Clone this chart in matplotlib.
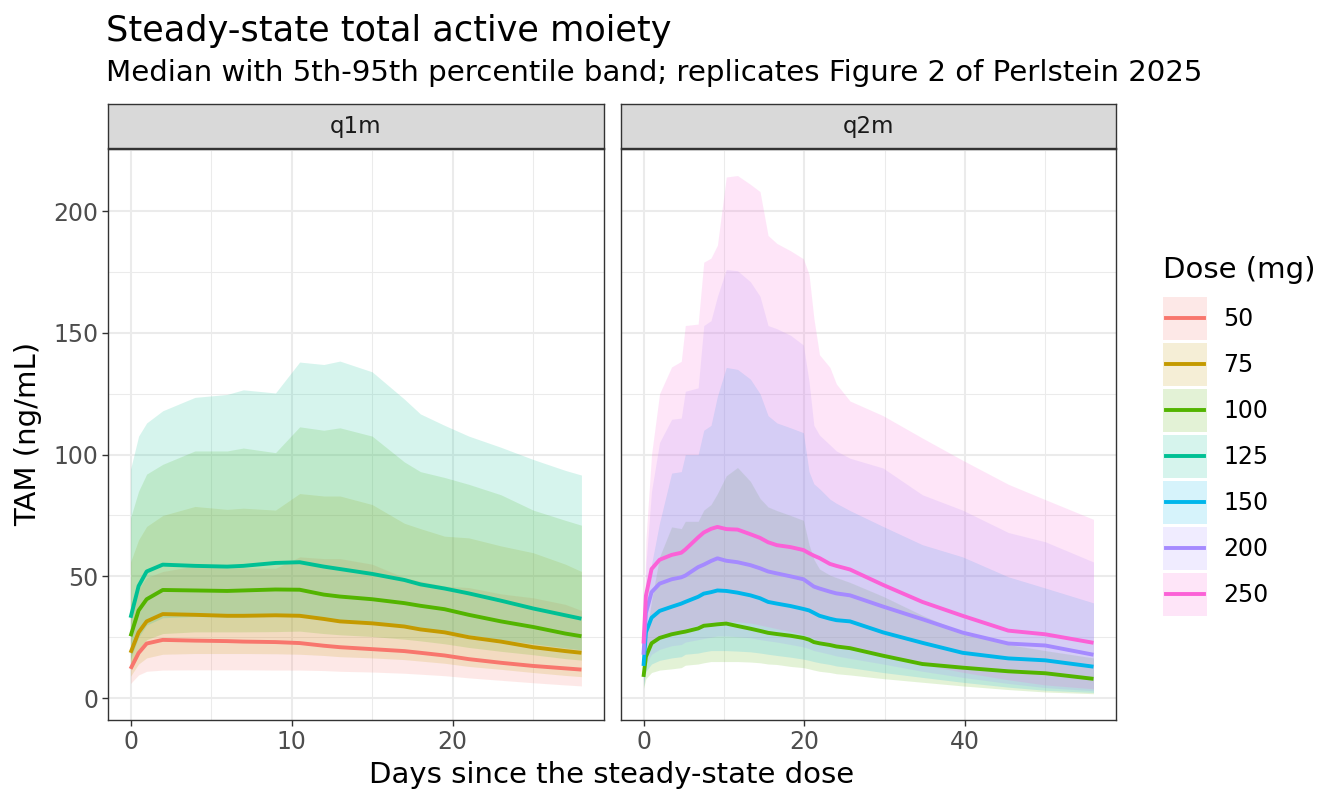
import numpy as np
import matplotlib
matplotlib.use("Agg")
import matplotlib.pyplot as plt
from matplotlib.patches import Patch, Rectangle
from matplotlib.lines import Line2D

# ---------------- data ----------------
dose_levels = ["50", "75", "100", "125", "150", "200", "250"]
dose_colors = ["#F8766D", "#C49A00", "#53B400", "#00C094", "#00B6EB", "#A58AFF", "#FB61D7"]

# q1m panel: days 0-28
t_q1m = [0, 0.5, 1, 2, 4, 6, 7, 9, 10.5, 12, 13, 15, 17, 18, 19.5, 21, 23, 25, 27, 28]
q1m_doses = ["50", "75", "100", "125"]
q1m_med = {
    "50":  [12, 18.5, 22.4, 23.9, 23.6, 23.4, 23.2, 23, 22.6, 21.5, 20.9, 20.1, 19.3, 18.6, 17.5, 16, 14.5, 13.2, 12.2, 11.7],
    "75":  [18.6, 27, 31.5, 34.5, 34.2, 33.8, 33.8, 34, 33.8, 32.5, 31.5, 30.7, 29.4, 28.2, 27, 25, 23.2, 20.9, 19.3, 18.6],
    "100": [25.4, 36, 40.6, 44.4, 44.2, 44, 44.2, 44.6, 44.5, 42.5, 41.7, 40.6, 39, 37.9, 36.5, 34.2, 31.5, 29.2, 26.5, 25.4],
    "125": [33, 46, 52, 54.8, 54.3, 54, 54.3, 55.5, 55.8, 54, 53, 51, 48.5, 46.7, 45, 43, 40, 36.8, 34, 32.6],
}
q1m_lo = {
    "50":  [6, 9.5, 11, 11.5, 11.6, 11.6, 11.6, 11.5, 11.5, 11.3, 11, 10.7, 10.2, 9.8, 9.2, 8.3, 7.3, 6.3, 5.4, 5],
    "75":  [9, 14, 16.5, 18, 18.3, 18.3, 18.3, 18.2, 18, 17.5, 17, 16.5, 15.8, 15.2, 14.3, 13, 11.8, 10.5, 9.3, 8.8],
    "100": [13, 20, 24, 26.5, 27.2, 27.2, 27.2, 27.3, 27.5, 26.5, 26, 25.3, 24.2, 23.5, 22.3, 20.8, 19.2, 17.8, 16.2, 15.6],
    "125": [16, 25, 30, 33, 33.5, 33.3, 33.3, 33.6, 33.8, 32.8, 32, 31, 29.6, 28.6, 27.4, 26, 24, 22.3, 20.6, 19.8],
}
q1m_hi = {
    "50":  [38.5, 45, 49.5, 52, 54.3, 53.5, 53.5, 53.3, 58, 57.3, 57.3, 55, 49.5, 48, 46, 45.4, 42.8, 41.2, 38.5, 36],
    "75":  [55.9, 65, 70.5, 75, 78.7, 77.5, 78, 77.2, 84, 83, 83, 79.5, 71.8, 69.6, 66.5, 65.8, 62.5, 59.7, 55, 52],
    "100": [74, 85, 92, 96, 101.5, 101.5, 102.7, 100.8, 111.4, 110, 111, 107.6, 97, 93, 90.6, 87.8, 83.5, 77.2, 73, 71],
    "125": [94, 107.6, 113, 118, 123.5, 124.7, 126.6, 125.3, 138, 137, 138.4, 134, 122.8, 116.7, 112, 107.6, 103, 98, 93.5, 91.6],
}

# q2m panel: days 0-56
t_q2m = [0, 0.3, 1, 2, 3.5, 4.7, 5.2, 6.8, 7.5, 8.4, 9.2, 10.3, 11.7, 13.3, 14.5, 15.5,
         16.6, 18.3, 19.9, 20.6, 21.2, 21.9, 23.2, 24, 25.7, 29.8, 34.7, 39.7, 45.4, 50, 56]
q2m_doses = ["100", "150", "200", "250"]
q2m_med = {
    "100": [8.7, 17, 22.5, 24.7, 26.2, 27, 27.3, 28.6, 29.7, 30, 30.3, 30.6, 29.6, 28.5, 27.6, 26.8,
            26.3, 25.6, 24.7, 24, 23, 22.5, 21.8, 21.2, 20.5, 17.4, 14, 12.5, 11, 10.2, 7.9],
    "150": [13.2, 27, 33, 35.8, 37.5, 38.8, 39.5, 41.6, 42.9, 43.5, 44.2, 44, 43.3, 42.2, 41, 39.5,
            38.8, 37.8, 36.6, 36, 35, 33.8, 32.6, 32, 31.5, 27, 22.7, 18.6, 16.3, 15.5, 12.9],
    "200": [17.8, 35, 43.5, 47, 48.8, 49.6, 50.3, 53.8, 54.8, 56.3, 57.4, 56.4, 55.8, 54.6, 53.3, 52,
            51.2, 50, 48.8, 47.2, 45.8, 45, 43.7, 43, 42.2, 37.6, 32.4, 26.9, 22.4, 21.6, 17.8],
    "250": [22.4, 42, 53, 56.8, 58.8, 59.7, 61, 66, 68, 69.5, 70.3, 69.4, 69.2, 67.3, 65.8, 64,
            62.8, 62, 60.8, 59.5, 58.5, 57.5, 55.1, 54.3, 52.8, 46.5, 39.5, 33.8, 27.7, 26.2, 22.7],
}
q2m_lo = {
    "100": [4, 8, 10.5, 11.5, 12, 12.5, 13.5, 14, 14.5, 15, 15, 15, 15, 14.8, 14.5, 14,
            13.8, 13, 12.5, 12, 11.5, 11, 10.5, 10, 9.5, 8, 6.5, 5, 3.5, 2.5, 1.8],
    "150": [5, 11, 14, 15.5, 16.5, 17, 18, 18.5, 19, 19.5, 19.5, 19.5, 19.3, 19, 18.5, 18,
            17.5, 16.8, 16, 15.5, 15, 14.5, 13.8, 13.2, 12.5, 10.5, 8.5, 6.5, 4.5, 3.2, 2.3],
    "200": [6, 14, 18, 20, 21.5, 22, 23, 24, 24.5, 25, 25.5, 25.5, 25.2, 24.8, 24, 23.5,
            23, 22, 21, 20.3, 19.5, 19, 18, 17.3, 16.3, 14, 11, 8.5, 6, 4.3, 3],
    "250": [7, 17, 22, 25, 26.5, 27, 28.5, 30, 30.5, 31, 31.5, 31.5, 31.3, 30.8, 30, 29.3,
            28.5, 27.3, 26, 25.3, 24.5, 23.7, 22.5, 21.6, 20.3, 17.5, 13.8, 10.6, 7.5, 5.4, 3.8],
}
q2m_hi = {
    "100": [10, 25, 40, 58, 70.3, 69.6, 72.6, 72.6, 77.2, 79.5, 84, 91.3, 94.7, 89, 82, 78.5,
            77, 75, 73, 63, 57, 53, 50.5, 49.5, 47.5, 41.8, 34, 27, 22, 19.5, 16.5],
    "150": [14, 35, 55, 72, 92.4, 93, 100, 100, 110, 112, 124, 135.8, 135, 131, 125, 116,
            113, 111, 109, 93, 88, 86, 81.7, 80, 77, 70.5, 63, 58, 49.8, 45.2, 39.1],
    "200": [16, 55, 85, 105, 114.5, 115, 126, 127.4, 153, 155, 165, 176, 175.5, 171, 165, 153,
            151.7, 149, 145, 130, 112, 108, 104, 101.5, 98.5, 94.5, 83.5, 77.2, 68, 64.2, 55.9],
    "250": [16, 65, 100, 125, 136, 138.3, 153, 153.6, 179, 180.7, 186, 214, 214.6, 211, 208, 190,
            186.7, 183.7, 180.4, 174, 156, 141, 135.8, 129, 122, 116, 106.8, 97.7, 87.8, 81.5, 73.4],
}

panels = [
    ("q1m", t_q1m, q1m_doses, q1m_med, q1m_lo, q1m_hi, [0, 10, 20], [5, 15, 25], (-1.4, 29.4)),
    ("q2m", t_q2m, q2m_doses, q2m_med, q2m_lo, q2m_hi, [0, 20, 40], [10, 30, 50], (-2.8, 58.8)),
]

# ---------------- layout (pixels -> figure fractions) ----------------
W, H = 1344, 806
fig = plt.figure(figsize=(W / 100, H / 100), dpi=100)

def rect(x0, y0, x1, y1):
    return [x0 / W, 1 - y1 / H, (x1 - x0) / W, (y1 - y0) / H]

panel_x = [(108, 604), (621, 1116)]
ALPHA = 0.16
LW = 2.8
grid_c = "#EBEBEB"

for i, ((name, t, doses, med, lo, hi, xmaj, xmin, xlim), (x0, x1)) in enumerate(zip(panels, panel_x)):
    ax = fig.add_axes(rect(x0, 149, x1, 720))
    ax.set_xlim(*xlim)
    ax.set_ylim(-9.0, 225.5)
    ax.set_xticks(xmaj)
    ax.set_xticks(xmin, minor=True)
    ax.set_yticks([0, 50, 100, 150, 200])
    ax.set_yticks([25, 75, 125, 175, 225], minor=True)
    ax.grid(True, which="major", color=grid_c, lw=1.5)
    ax.grid(True, which="minor", color=grid_c, lw=0.75)
    ax.set_axisbelow(True)
    for sp in ax.spines.values():
        sp.set_color("#333333")
        sp.set_linewidth(1.0)
    ax.tick_params(which="major", length=4, width=1, color="#333333",
                   labelsize=17, labelcolor="#4D4D4D", pad=3)
    ax.tick_params(which="minor", length=0)
    if i > 0:
        ax.tick_params(axis="y", left=False, labelleft=False)

    for d in doses:
        c = dose_colors[dose_levels.index(d)]
        ax.fill_between(t, lo[d], hi[d], color=c, alpha=ALPHA, lw=0)
    for d in doses:
        c = dose_colors[dose_levels.index(d)]
        ax.plot(t, med[d], color=c, lw=LW, solid_capstyle="butt")

    sx = fig.add_axes(rect(x0, 104, x1, 148))
    sx.set_facecolor("#D9D9D9")
    sx.set_xticks([])
    sx.set_yticks([])
    for sp in sx.spines.values():
        sp.set_color("#333333")
        sp.set_linewidth(1.0)
    sx.text(0.5, 0.5, name, ha="center", va="center", fontsize=16.5, color="#1A1A1A")

# titles and axis labels
fig.text(106 / W, 1 - 31 / H, "Steady-state total active moiety", fontsize=25.3,
         ha="left", va="center", color="black")
fig.text(106 / W, 1 - 73 / H, "Median with 5th-95th percentile band; replicates Figure 2 of Perlstein 2025",
         fontsize=21.1, ha="left", va="center", color="black")
fig.text(612 / W, 1 - 775 / H, "Days since the steady-state dose", fontsize=21,
         ha="center", va="center")
fig.text(28 / W, 1 - 434 / H, "TAM (ng/mL)", fontsize=21, rotation=90,
         ha="center", va="center")


# legend: filled key with the median line across its middle
class KeyHandler:
    def legend_artist(self, legend, orig_handle, fontsize, handlebox):
        x0, y0 = -handlebox.xdescent, -handlebox.ydescent
        w, h = handlebox.width, handlebox.height
        c = orig_handle.get_gid()
        box = Rectangle((x0, y0), w, h, facecolor=c, alpha=ALPHA, edgecolor="none",
                        transform=handlebox.get_transform())
        ln = Line2D([x0 + 0.07 * w, x0 + 0.93 * w], [y0 + h / 2, y0 + h / 2], color=c, lw=LW,
                    transform=handlebox.get_transform())
        handlebox.add_artist(box)
        handlebox.add_artist(ln)
        return box


handles = []
for c in dose_colors:
    p = Patch()
    p.set_gid(c)
    handles.append(p)

fig.text(1163 / W, 1 - 270 / H, "Dose (mg)", fontsize=21, ha="left", va="center")
leg = fig.legend(handles, dose_levels, loc="upper left", handler_map={Patch: KeyHandler()},
                 bbox_to_anchor=(1163 / W, 1 - 297 / H), frameon=False, borderaxespad=0,
                 fontsize=17, handlelength=1.86, handleheight=2.42,
                 labelspacing=0.13, handletextpad=0.7, borderpad=0)

plt.savefig("out.png", dpi=100)
